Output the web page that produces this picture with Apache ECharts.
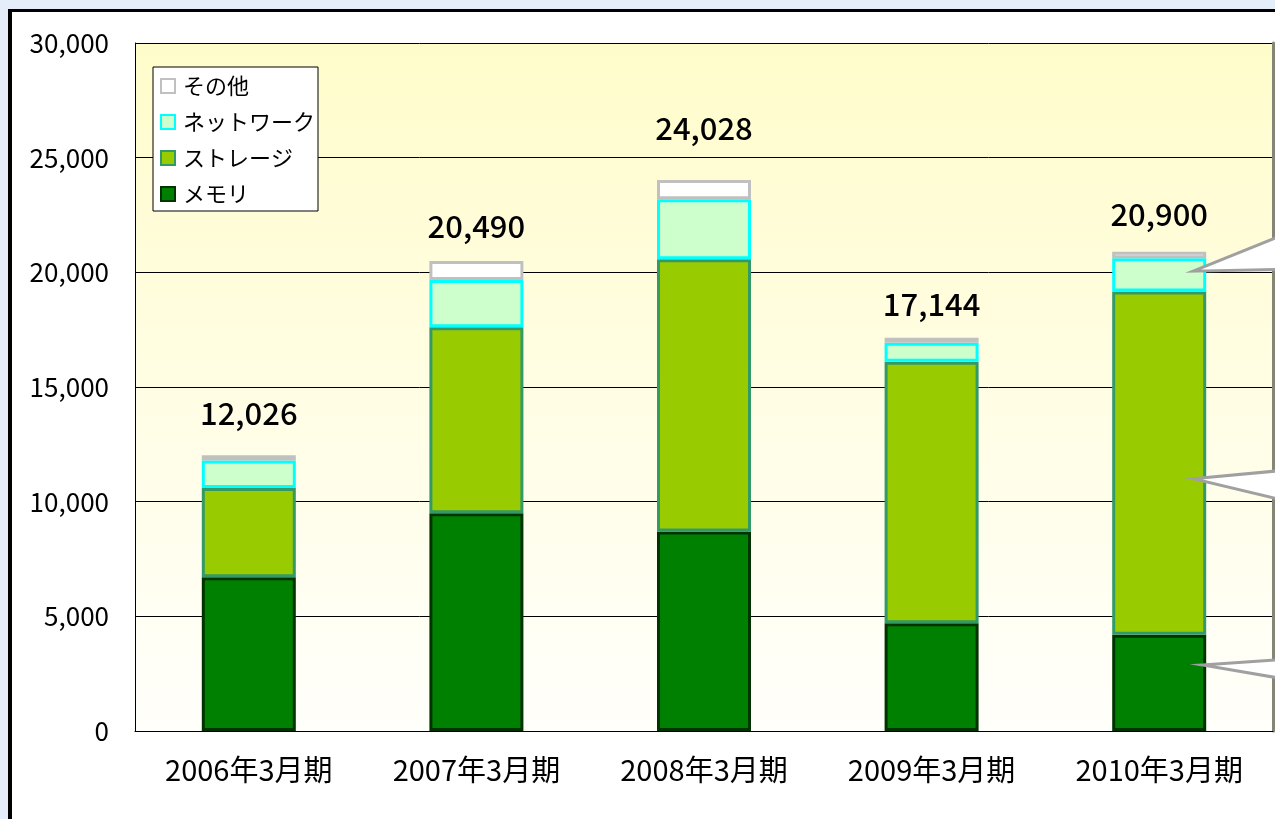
<!DOCTYPE html>
<html>
<head>
<meta charset="utf-8">
<script src="https://cdn.jsdelivr.net/npm/echarts@6/dist/echarts.min.js"></script>
<style>
  html, body { margin: 0; padding: 0; width: 1275px; height: 819px; overflow: hidden; background: #e4edf9; }
  #frame { position: absolute; left: 8px; top: 9px; width: 1400px; height: 1000px;
           border-left: 4px solid #000; border-top: 3px solid #000; background: #fff; }
  #chart { position: absolute; left: 0; top: 0; width: 1275px; height: 819px; }
</style>
</head>
<body>
<div id="frame"></div>
<div id="chart"></div>
<script>
// Fiscal periods
const categories = ['2006年3月期', '2007年3月期', '2008年3月期', '2009年3月期', '2010年3月期'];

// Sales by product segment (stacked)
const memory  = [6700, 9500, 8700, 4700, 4200];
const storage = [3900, 8100, 11870, 11400, 14960];
const network = [1190, 2070, 2620, 830, 1450];
const other   = [236, 820, 838, 214, 290];

// Y axis
const yMin = 0, yMax = 30000, yStep = 5000;

// Callout pointers next to the last bar: value the tip points at
const calloutValues = [20050, 11000, 2880];

// Gap between each bar top and its total label (px)
const totalLabelGap = [26, 19, 36, 18, 22];

const FONT = '"Noto Sans CJK JP", "Noto Sans", sans-serif';

function fmt(n) { return n.toLocaleString('en-US'); }

const chart = echarts.init(document.getElementById('chart'), null, { renderer: 'canvas' });

const BAR_W = 94;

function seriesOf(name, data, fill, border, z) {
  return {
    name: name, type: 'bar', stack: 'total', data: data, barWidth: BAR_W, z: z,
    itemStyle: { color: fill, borderColor: border, borderWidth: 3 },
    emphasis: { disabled: true }
  };
}

const sMem = seriesOf('メモリ', memory, '#008000', '#003300', 2);
const sSto = seriesOf('ストレージ', storage, '#99cc00', '#339966', 3);
const sNet = seriesOf('ネットワーク', network, '#ccffcc', '#00ffff', 4);
const sOth = seriesOf('その他', other.map((v, i) => ({ value: v, label: { distance: totalLabelGap[i] } })),
                      '#ffffff', '#c0c0c0', 5);
sOth.label = {
  show: true, position: 'top',
  fontFamily: FONT, fontSize: 31, fontWeight: 500, color: '#000',
  formatter: p => fmt(memory[p.dataIndex] + storage[p.dataIndex] + network[p.dataIndex] + other[p.dataIndex])
};

chart.setOption({
  animation: false,
  backgroundColor: 'transparent',
  textStyle: { fontFamily: FONT },
  grid: {
    left: 135, right: 2, top: 43, bottom: 88, show: true, borderWidth: 0,
    backgroundColor: {
      type: 'linear', x: 0, y: 0, x2: 0, y2: 1,
      colorStops: [{ offset: 0, color: '#fffccb' }, { offset: 1, color: '#fffffb' }]
    }
  },
  legend: {
    orient: 'vertical', left: 153, top: 67,
    data: ['その他', 'ネットワーク', 'ストレージ', 'メモリ'],
    backgroundColor: '#fff', borderColor: '#000', borderWidth: 1,
    padding: [8, 3, 6, 7], itemGap: 14, itemWidth: 14, itemHeight: 14, icon: 'rect',
    textStyle: { fontFamily: FONT, fontSize: 22, color: '#000', padding: [0, 0, 0, 3] },
    selectedMode: false
  },
  xAxis: {
    type: 'category', data: categories,
    axisLine: { show: true, lineStyle: { color: '#000', width: 1 } },
    axisTick: { show: false },
    axisLabel: { fontFamily: FONT, fontSize: 29, color: '#000', margin: 24 }
  },
  yAxis: [{
    type: 'value', min: yMin, max: yMax, interval: yStep,
    axisLine: { show: true, lineStyle: { color: '#000', width: 1 } },
    axisTick: { show: false },
    splitLine: { show: true, lineStyle: { color: '#000', width: 1 } },
    axisLabel: { fontFamily: FONT, fontSize: 26, color: '#000', margin: 26, formatter: v => fmt(v) }
  }, {
    type: 'value', min: yMin, max: yMax, interval: yStep, position: 'right',
    axisLine: { show: true, lineStyle: { color: '#868678', width: 3 } },
    axisTick: { show: false }, axisLabel: { show: false }, splitLine: { show: false }
  }],
  series: [sMem, sSto, sNet, sOth]
});

// Callout pointers entering from the right edge toward the last bar
const last = categories.length - 1;
const graphics = calloutValues.map((v, i) => {
  const p = chart.convertToPixel({ xAxisIndex: 0, yAxisIndex: 0 }, [last, v]);
  const tipX = p[0] + BAR_W / 2 - 13 + (i === 2 ? 9 : 0);
  const up = [-37, -7, -4][i], down = [-4, 21, 13][i];
  return {
    type: 'polygon', z: 100,
    shape: { points: [[tipX, p[1]], [1290, p[1] + up - 2], [1290, p[1] + down + 2]] },
    style: { fill: '#fff', stroke: '#a0a0a0', lineWidth: 3 }
  };
});
chart.setOption({ graphic: graphics });
</script>
</body>
</html>
